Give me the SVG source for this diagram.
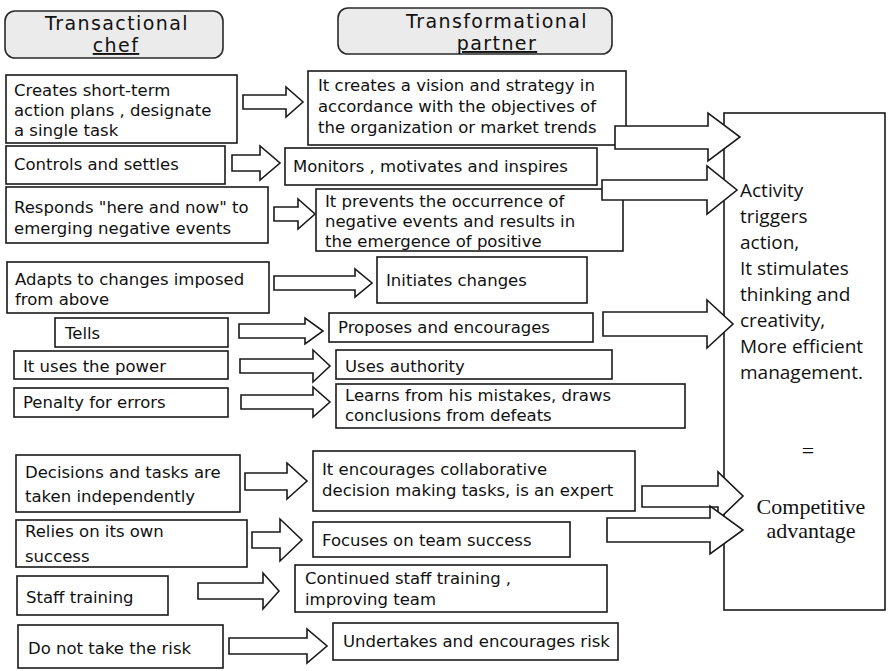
<svg xmlns="http://www.w3.org/2000/svg" width="890" height="671" viewBox="0 0 890 671">
<style>
.bg{fill:#ffffff}
.box{fill:#ffffff;stroke:#1a1a1a;stroke-width:1.6}
.hdr{fill:#ebebeb;stroke:#2a2a2a;stroke-width:1.6}
.t{font-family:"DejaVu Sans","Liberation Sans",sans-serif;font-size:16.5px;fill:#111}
.h{font-family:"DejaVu Sans","Liberation Sans",sans-serif;font-size:19px;letter-spacing:1.4px;fill:#111;text-anchor:middle}
.r{font-family:"Open Sans","Noto Sans",sans-serif;font-size:19px;fill:#111}
.s{font-family:"Liberation Serif","Times New Roman",serif;font-size:22px;fill:#111;text-anchor:middle}
.arr{fill:#ffffff;stroke:#1a1a1a;stroke-width:1.6;stroke-linejoin:miter}
</style>
<rect class="bg" x="0" y="0" width="890" height="671"/>

<g id="header-transactional">
<rect class="hdr" x="5" y="11" width="218" height="47" rx="10"/>
<text class="h" x="117" y="30">Transactional</text>
<text class="h" x="116" y="52" text-decoration="underline">chef</text>
</g>
<g id="header-transformational">
<rect class="hdr" x="338" y="8" width="274" height="46" rx="10"/>
<text class="h" x="497" y="28">Transformational</text>
<text class="h" x="497" y="50" text-decoration="underline">partner</text>
</g>

<g id="result">
<rect class="box" x="724" y="113" width="161" height="497"/>
<text class="r" x="740" y="197">Activity</text>
<text class="r" x="740" y="223">triggers</text>
<text class="r" x="740" y="249">action,</text>
<text class="r" x="740" y="275">It stimulates</text>
<text class="r" x="740" y="301">thinking and</text>
<text class="r" x="740" y="327">creativity,</text>
<text class="r" x="740" y="353">More efficient</text>
<text class="r" x="740" y="379">management.</text>
<text class="s" x="808" y="458">=</text>
<text class="s" x="811" y="514">Competitive</text>
<text class="s" x="811" y="538">advantage</text>
</g>

<g id="l1"><rect class="box" x="6" y="75" width="231" height="68"/>
<text class="t" x="14" y="96">Creates short-term</text>
<text class="t" x="14" y="116">action plans , designate</text>
<text class="t" x="14" y="136">a single task</text></g>
<g id="l2"><rect class="box" x="6" y="146" width="219" height="38"/>
<text class="t" x="14" y="170">Controls and settles</text></g>
<g id="l3"><rect class="box" x="6" y="187" width="262" height="56"/>
<text class="t" x="14" y="213">Responds "here and now" to</text>
<text class="t" x="14" y="234">emerging negative events</text></g>
<g id="l4"><rect class="box" x="7" y="262" width="262" height="51"/>
<text class="t" x="15" y="285">Adapts to changes imposed</text>
<text class="t" x="15" y="305">from above</text></g>
<g id="l5"><rect class="box" x="55" y="318" width="173" height="29"/>
<text class="t" x="65" y="339">Tells</text></g>
<g id="l6"><rect class="box" x="14" y="351" width="214" height="28"/>
<text class="t" x="23" y="372">It uses the power</text></g>
<g id="l7"><rect class="box" x="14" y="388" width="214" height="29"/>
<text class="t" x="23" y="408">Penalty for errors</text></g>
<g id="l8"><rect class="box" x="16" y="455" width="224" height="57"/>
<text class="t" x="25" y="478">Decisions and tasks are</text>
<text class="t" x="25" y="502">taken independently</text></g>
<g id="l9"><rect class="box" x="16" y="520" width="231" height="47"/>
<text class="t" x="25" y="537">Relies on its own</text>
<text class="t" x="25" y="562">success</text></g>
<g id="l10"><rect class="box" x="17" y="576" width="151" height="39"/>
<text class="t" x="26" y="603">Staff training</text></g>
<g id="l11"><rect class="box" x="18" y="625" width="205" height="43"/>
<text class="t" x="28" y="654">Do not take the risk</text></g>

<g id="m1"><rect class="box" x="308" y="71" width="318" height="74"/>
<text class="t" x="318" y="91">It creates a vision and strategy in</text>
<text class="t" x="318" y="112">accordance with the objectives of</text>
<text class="t" x="318" y="133">the organization or market trends</text></g>
<g id="m2"><rect class="box" x="285" y="148" width="312" height="37"/>
<text class="t" x="293" y="172">Monitors , motivates and inspires</text></g>
<g id="m3"><rect class="box" x="316" y="189" width="307" height="62"/>
<text class="t" x="325" y="207">It prevents the occurrence of</text>
<text class="t" x="325" y="227">negative events and results in</text>
<text class="t" x="325" y="247">the emergence of positive</text></g>
<g id="m4"><rect class="box" x="377" y="257" width="210" height="46"/>
<text class="t" x="386" y="286">Initiates changes</text></g>
<g id="m5"><rect class="box" x="329" y="313" width="264" height="29"/>
<text class="t" x="338" y="333">Proposes and encourages</text></g>
<g id="m6"><rect class="box" x="336" y="350" width="276" height="29"/>
<text class="t" x="345" y="372">Uses authority</text></g>
<g id="m7"><rect class="box" x="336" y="384" width="349" height="44"/>
<text class="t" x="345" y="401">Learns from his mistakes, draws</text>
<text class="t" x="345" y="421">conclusions from defeats</text></g>
<g id="m8"><rect class="box" x="313" y="451" width="322" height="60"/>
<text class="t" x="322" y="475">It encourages collaborative</text>
<text class="t" x="322" y="496">decision making tasks, is an expert</text></g>
<g id="m9"><rect class="box" x="313" y="522" width="257" height="35"/>
<text class="t" x="322" y="546">Focuses on team success</text></g>
<g id="m10"><rect class="box" x="295" y="565" width="312" height="47"/>
<text class="t" x="305" y="584">Continued staff training ,</text>
<text class="t" x="305" y="605">improving team</text></g>
<g id="m11"><rect class="box" x="333" y="623" width="285" height="37"/>
<text class="t" x="343" y="647">Undertakes and encourages risk</text></g>

<g id="connectors">
<path class="arr" d="M243,95 L286,95 L286,87 L303,102 L286,117 L286,109 L243,109 Z"/>
<path class="arr" d="M232,155 L260,155 L260,146 L280,163 L260,180 L260,171 L232,171 Z"/>
<path class="arr" d="M274,207 L298,207 L298,199 L315,214 L298,229 L298,221 L274,221 Z"/>
<path class="arr" d="M274,276 L355,276 L355,269 L372,283 L355,297 L355,290 L274,290 Z"/>
<path class="arr" d="M239,324 L305,324 L305,318 L323,331 L305,344 L305,338 L239,338 Z"/>
<path class="arr" d="M240,359 L313,359 L313,350 L330,366 L313,382 L313,373 L240,373 Z"/>
<path class="arr" d="M241,395 L313,395 L313,387 L330,402 L313,417 L313,409 L241,409 Z"/>
<path class="arr" d="M245,473 L287,473 L287,463 L307,481 L287,499 L287,490 L245,490 Z"/>
<path class="arr" d="M252,532 L280,532 L280,519 L302,540 L280,561 L280,548 L252,548 Z"/>
<path class="arr" d="M198,583 L263,583 L263,573 L279,591 L263,609 L263,599 L198,599 Z"/>
<path class="arr" d="M229,638 L307,638 L307,629 L327,646 L307,663 L307,654 L229,654 Z"/>
<path class="arr" d="M615,126 L708,126 L708,113 L740,137 L708,161 L708,149 L615,149 Z"/>
<path class="arr" d="M602,180 L707,180 L707,166 L737,190 L707,214 L707,200 L602,200 Z"/>
<path class="arr" d="M603,312 L707,312 L707,300 L733,324 L707,348 L707,336 L603,336 Z"/>
<path class="arr" d="M642,486 L718,486 L718,472 L743,496 L718,520 L718,507 L642,507 Z"/>
<path class="arr" d="M607,518 L710,518 L710,506 L743,530 L710,554 L710,542 L607,542 Z"/>
</g>
</svg>
